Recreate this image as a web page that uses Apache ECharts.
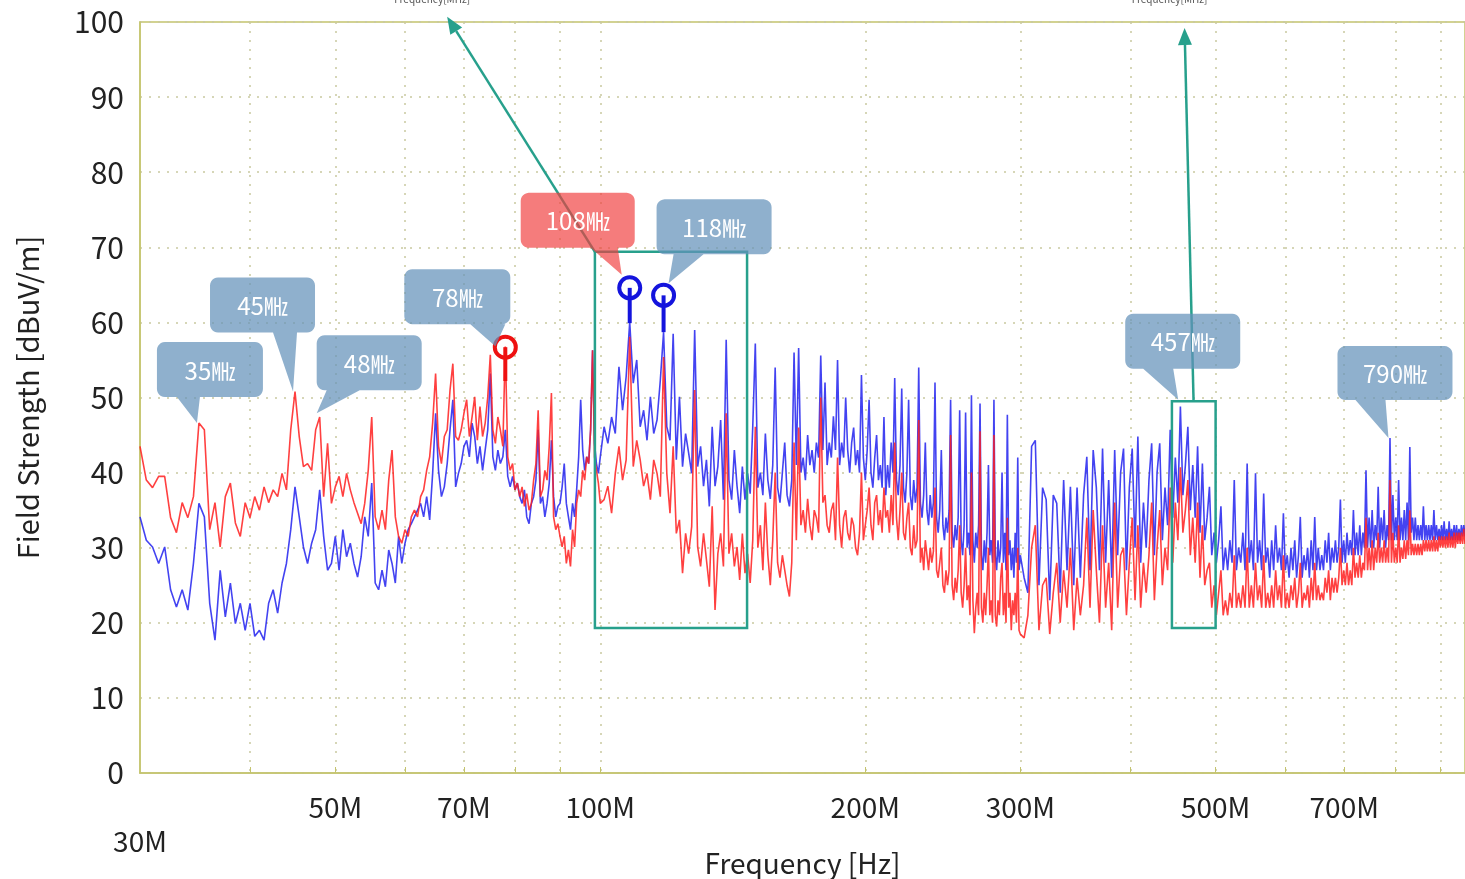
<!DOCTYPE html>
<html>
<head>
<meta charset="utf-8">
<title>Field Strength</title>
<script src="https://cdn.jsdelivr.net/npm/echarts@6/dist/echarts.min.js"></script>
<style>
  html, body { margin: 0; padding: 0; background: #fff; }
  #chart { width: 1465px; height: 879px; }
</style>
</head>
<body>
<div id="chart"></div>
<script>
  // sweep frequencies [MHz]
  const freqLow = [
    30, 30.5, 31, 31.5, 32, 32.5, 33, 33.5, 34, 34.5,
    35, 35.5, 36, 36.5, 37, 37.5, 38, 38.5, 39, 39.5,
    40, 40.5, 41, 41.5, 42, 42.5, 43, 43.5, 44, 44.5,
    45, 45.5, 46, 46.5, 47, 47.5, 48, 48.5, 49, 49.5,
    50, 50.5, 51, 51.5, 52, 52.5, 53, 53.5, 54, 54.5,
    55, 55.5, 56, 56.5, 57, 57.5, 58, 58.5, 59, 59.5,
    60, 60.5, 61, 61.5, 62, 62.5, 63, 63.5, 64, 64.5,
    65, 65.5, 66, 66.5, 67, 67.5, 68, 68.5, 69, 69.5,
    70, 70.5, 71, 71.5, 72, 72.5, 73, 73.5, 74, 74.5,
    75, 75.5, 76, 76.5, 77, 77.5, 78, 78.5, 79, 79.5,
    80, 80.5, 81, 81.5, 82, 82.5, 83, 83.5, 84, 84.5,
    85, 85.5, 86, 86.5, 87, 87.5, 88, 88.5, 89, 89.5,
    90, 90.5, 91, 91.5, 92, 92.5, 93, 93.5, 94, 94.5,
    95, 95.5, 96, 96.5, 97, 97.5, 98, 98.5, 99, 99.5,
    100
  ];
  const freqMid1 = [
    101, 102, 103, 104, 105, 106, 107, 108, 109, 110,
    111, 112, 113, 114, 115, 116, 117, 118, 119, 120,
    121, 122, 123, 124, 125, 126, 127, 128, 129, 130,
    131, 132, 133, 134, 135, 136, 137, 138, 139, 140,
    141, 142, 143, 144, 145, 146, 147, 148, 149, 150
  ];
  const freqMid2 = [
    151, 152, 153, 154, 155, 156, 157, 158, 159, 160,
    161, 162, 163, 164, 165, 166, 167, 168, 169, 170,
    171, 172, 173, 174, 175, 176, 177, 178, 179, 180,
    181, 182, 183, 184, 185, 186, 187, 188, 189, 190,
    191, 192, 193, 194, 195, 196, 197, 198, 199, 200,
    201, 202, 203, 204, 205, 206, 207, 208, 209, 210,
    211, 212, 213, 214, 215, 216, 217, 218, 219, 220,
    221, 222, 223, 224, 225, 226, 227, 228, 229, 230,
    231, 232, 233, 234, 235, 236, 237, 238, 239, 240,
    241, 242, 243, 244, 245, 246, 247, 248, 249, 250,
    251, 252, 253, 254, 255, 256, 257, 258, 259, 260,
    261, 262, 263, 264, 265, 266, 267, 268, 269, 270,
    271, 272, 273, 274, 275, 276, 277, 278, 279, 280,
    281, 282, 283, 284, 285, 286, 287, 288, 289, 290,
    291, 292, 293, 294, 295, 296, 297, 298, 299, 300
  ];
  const freqHigh = [
    303, 306, 309, 312, 315, 318, 321, 324, 327, 330,
    333, 336, 339, 342, 345, 348, 351, 354, 357, 360,
    363, 366, 369, 372, 375, 378, 381, 384, 387, 390,
    393, 396, 399, 402, 405, 408, 411, 414, 417, 420,
    423, 426, 429, 432, 435, 438, 441, 444, 447, 450,
    453, 456, 459, 462, 465, 468, 471, 474, 477, 480,
    483, 486, 489, 492, 495, 498, 501, 504, 507, 510,
    513, 516, 519, 522, 525, 528, 531, 534, 537, 540,
    543, 546, 549, 552, 555, 558, 561, 564, 567, 570,
    573, 576, 579, 582, 585, 588, 591, 594, 597, 600,
    603, 606, 609, 612, 615, 618, 621, 624, 627, 630,
    633, 636, 639, 642, 645, 648, 651, 654, 657, 660,
    663, 666, 669, 672, 675, 678, 681, 684, 687, 690,
    693, 696, 699, 702, 705, 708, 711, 714, 717, 720,
    723, 726, 729, 732, 735, 738, 741, 744, 747, 750,
    753, 756, 759, 762, 765, 768, 771, 774, 777, 780,
    783, 786, 789, 792, 795, 798, 801, 804, 807, 810,
    813, 816, 819, 822, 825, 828, 831, 834, 837, 840,
    843, 846, 849, 852, 855, 858, 861, 864, 867, 870,
    873, 876, 879, 882, 885, 888, 891, 894, 897, 900,
    903, 906, 909, 912, 915, 918, 921, 924, 927, 930,
    933, 936, 939, 942, 945, 948, 951, 954, 957, 960
  ];

  // blue trace [dBuV/m]
  const blueLow = [
    34.1, 31, 30.1, 27.9, 30.1, 24.4, 22.1, 24.4, 21.7, 27.9,
    35.9, 34.1, 22.6, 17.7, 27, 20.8, 25.3, 19.9, 22.6, 19,
    22.6, 18.2, 19, 17.7, 22.6, 24.4, 21.3, 25.3, 27.9, 32.4,
    38.1, 34.1, 30.1, 27.9, 30.6, 32.4, 37.7, 31.5, 27, 27.9,
    31.5, 27, 32.4, 28.8, 30.6, 27.9, 26.1, 28.8, 34.1, 31.5,
    38.6, 25.3, 24.4, 27, 24.8, 29.7, 27.9, 25.3, 31.5, 27.9,
    30.6, 32.4, 33.2, 34.1, 35, 35.9, 34.1, 36.8, 33.7, 39.9,
    47.9, 40.3, 36.8, 38.1, 41.2, 45.7, 49.7, 38.1, 39.9, 41.2,
    43.5, 44.3, 42.1, 46.6, 44.8, 41.2, 43.5, 40.3, 43, 45.7,
    53.2, 42.1, 40.3, 43, 41.2, 42.1, 45.7, 39.5, 38.1, 39.5,
    37.7, 38.6, 36.8, 35.9, 37.7, 34.1, 33.2, 35.9, 36.8, 39,
    45.7, 35.9, 36.8, 34.1, 35.9, 38.6, 44.3, 36.8, 34.1, 35.5,
    35.9, 38.1, 41.2, 35.9, 34.1, 32.4, 35.9, 34.1, 37.7, 42.1,
    49.7, 43, 40.3, 42.1, 41.2, 45.7, 56.3, 43.9, 41.2, 39.9,
    42.1
  ];
  const blueMid1 = [
    46.1, 43.9, 47.4, 45.2, 54.1, 48.3, 52.8, 60, 51.9, 55,
    46.1, 48.3, 44.3, 50.1, 45.2, 47, 52.3, 58.7, 46.1, 44.3,
    58.5, 41.7, 50.1, 40.8, 45.2, 42.6, 39.9, 59, 40.8, 43.5,
    38.2, 41.7, 35.5, 46.1, 38.2, 40.8, 47, 36.4, 57.7, 39,
    36.4, 43, 38.2, 34.6, 40.8, 36.4, 39.9, 37.2, 46.1, 57.2
  ];
  const blueMid2 = [
    38, 40, 37, 45.2, 39, 36.5, 41, 54, 38, 36,
    40, 44, 37, 35.5, 39, 56, 41, 56.6, 40, 42,
    39, 45, 41, 43, 40, 44, 42, 55.6, 43, 52,
    41, 44, 42, 47.5, 43, 55, 41, 44, 42, 50,
    43, 40, 44, 46, 41, 43, 40, 53, 42, 39,
    43, 49.7, 40, 38, 42, 45, 39, 41, 38, 47.4,
    37, 41, 38, 44, 40, 52.6, 39, 37, 41, 51.2,
    38, 36, 40, 49.7, 37, 35, 39, 36, 38, 54,
    36, 34, 37, 44, 35, 33, 37, 34, 36, 52,
    34, 32, 35, 43, 33, 31, 34, 32, 35, 49.7,
    32, 30, 33, 31, 34, 48.3, 31, 29, 33, 48,
    30, 32, 29, 50.3, 31, 28, 32, 30, 33, 49.2,
    29, 27, 31, 28, 32, 41, 29, 31, 28, 49.7,
    29, 27, 31, 28, 30, 40, 28, 32, 27, 47.7,
    29, 31, 27, 30, 26, 32, 28, 42, 27, 29
  ];
  const blueHigh = [
    26, 24, 43.5, 44.3, 25, 38, 36.4, 23, 37, 35.9,
    24, 39, 27, 38.1, 25, 38, 26, 37, 42.1, 27,
    43, 38, 27, 43.2, 28, 39, 26, 43, 29, 40,
    43.2, 27, 38, 43.2, 30, 44.8, 28, 36, 30, 39,
    43.9, 29, 40, 43.9, 31, 38, 33, 45.7, 34, 42,
    36, 48.8, 37, 41, 46.1, 35, 41, 34, 43.5, 32,
    41.2, 31, 34, 38.1, 29, 32, 28, 31, 35.5, 27,
    30, 27, 31, 28, 39, 27, 30, 28, 32, 27,
    41.2, 28, 31, 27, 39.9, 28, 31, 27, 37.2, 28,
    30, 26, 31, 27, 33, 28, 30, 27, 34.6, 27,
    29, 26, 30, 27, 31, 26, 29, 34.1, 26, 29,
    27, 30, 26, 31, 27, 34.1, 27, 30, 27, 29,
    27, 31, 28, 32, 27, 30, 28, 31, 28, 30,
    36.4, 28, 31, 28, 32, 29, 31, 29, 35, 29,
    32, 29, 33, 29, 32, 30, 40.3, 30, 34, 30,
    35, 30, 33, 31, 38.1, 30, 34, 31, 35, 30,
    33, 31, 44.6, 31, 37, 31, 34, 31, 39, 31,
    34, 31, 35, 31, 36, 31, 43.4, 32, 34, 31,
    34, 31, 33, 31, 33, 31, 35.5, 31, 33, 31,
    33, 31, 33, 31, 35, 31, 33, 31, 32.5, 31,
    33, 31, 33.5, 31, 32.5, 31, 33.5, 31, 32.5, 31,
    33, 31, 33, 31, 32.5, 31, 33, 31.5, 33, 31.5
  ];

  // red trace [dBuV/m]
  const redLow = [
    43.5, 39, 38, 39.5, 39.5, 34, 32, 36, 34, 36.8,
    46.6, 45.7, 32.4, 36, 30.1, 36.8, 38.6, 33.3, 31.5, 36,
    34, 36.8, 35, 38.1, 36, 37.7, 36.8, 39.9, 37.7, 45.7,
    50.8, 44.8, 40.8, 41.2, 40.3, 45.7, 47.4, 36.8, 43.9, 35.9,
    38.1, 39.5, 36.8, 39.9, 37.7, 36, 34.6, 33.2, 35.9, 40.3,
    47.4, 34.1, 32.4, 35, 32.4, 39, 43, 34.1, 31.5, 30.6,
    32.4, 31.5, 34.1, 35, 34.1, 36.8, 37.7, 40.3, 42.1, 46.6,
    53.2, 43.5, 41.2, 44.8, 45.7, 51, 54.5, 44.8, 44.3, 45.7,
    47.9, 49.7, 44.8, 47.4, 50.1, 44.3, 48.8, 44.8, 46.6, 50.1,
    55.7, 45.7, 43.9, 47.4, 45.7, 43.5, 56.8, 42.1, 40.3, 41.2,
    37.7, 38.6, 36.8, 38.1, 35.5, 37.2, 35, 35.9, 39, 41.2,
    48.3, 36.8, 37.7, 40.3, 39, 43.5, 50.6, 34.1, 32.4, 33.2,
    31.5, 30.1, 31.5, 27.9, 29.7, 27.5, 32.4, 30.1, 35.9, 37.7,
    36.8, 40.3, 39, 42.1, 41.2, 45.7, 56.3, 42.1, 40.3, 38.6,
    35.9
  ];
  const redMid1 = [
    36.4, 38.2, 34.6, 39.9, 43.5, 39, 41.7, 58.1, 40.8, 44.3,
    41.7, 38.2, 39.9, 36.4, 41.7, 39.9, 36.8, 55.4, 39.9, 34.6,
    43.5, 31.9, 33.7, 26.6, 31.9, 29.2, 32.8, 51, 30.1, 27.5,
    31.9, 28.4, 24.8, 35.5, 21.7, 29.2, 31.9, 27.5, 47.9, 29.2,
    31.9, 27.5, 30.1, 25.7, 31.9, 26.6, 29.2, 25.3, 31, 46.1
  ];
  const redMid2 = [
    30, 33, 27, 36, 29, 25, 31, 40, 28, 26,
    29, 27, 25, 23.5, 28, 44, 31, 46, 33, 35,
    32, 36.5, 33, 31, 35, 34, 32, 50, 36, 37,
    33, 32, 35, 36, 31, 42, 33, 30, 34, 35,
    32, 31, 34, 33, 30, 29, 32, 40, 31, 33,
    35, 38, 33, 31, 36, 37, 33, 35, 32, 38,
    34, 35, 32, 37, 33, 44, 34, 31, 35, 40,
    32, 31, 34, 36, 30, 29, 33, 30, 31, 47,
    28, 30, 27, 31, 29, 27, 30, 28, 29.5, 38,
    27, 26, 28, 30, 25, 24, 27, 25, 27, 45,
    25, 23, 26, 24, 27, 33, 24, 22, 25, 30,
    23, 25, 21, 40, 23, 18.6, 22, 24, 21, 45.5,
    22, 20, 24, 21, 25, 30, 21, 23, 20, 45,
    21, 19.5, 23, 21, 26, 28, 21, 24, 20, 34,
    22, 24, 19, 23, 21, 24, 20, 30, 19, 18.5
  ];
  const redHigh = [
    18, 21, 30, 33, 19, 25, 26, 18.5, 24, 28,
    20, 27, 22, 30, 19, 26, 21, 25, 34, 22,
    35, 27, 20, 33, 22, 28, 19, 36, 22, 29,
    30, 21, 28, 34, 23, 33, 22, 28, 24, 29,
    36, 23, 30, 35, 25, 30, 27, 38, 28, 36,
    31, 40.7, 32, 35, 39, 29, 34, 28, 36, 26,
    33, 25, 27, 28, 22, 25, 21, 24, 27, 21,
    23, 21, 24, 22, 29, 22, 24, 22, 25, 22,
    30, 22, 25, 22, 28, 23, 25, 22, 29, 22,
    24, 22, 25, 22, 27, 23, 25, 22, 29, 22,
    24, 22, 25, 23, 26, 22, 24, 28, 22, 24,
    23, 25, 22, 26, 23, 28, 23, 25, 23, 24,
    23, 26, 24, 27, 23, 26, 24, 26, 24, 26,
    30, 25, 27, 25, 28, 25, 27, 25, 30, 26,
    28, 26, 29, 26, 28, 27, 34, 27, 30, 27,
    31, 27, 30, 28, 32, 28, 30, 28, 31, 28,
    30, 28, 39, 28, 32, 28, 30, 28, 33, 28,
    30, 28.5, 31, 28.5, 31, 29, 35, 29, 30.5, 29,
    30.5, 29, 30.5, 29, 30.5, 29, 31, 29.5, 31, 29.5,
    31, 29.5, 31, 29.5, 31.5, 29.5, 31, 29.5, 31.5, 30,
    31.5, 30, 31.5, 30, 31.5, 30, 32, 30, 31.5, 30,
    32, 30, 32, 30.5, 32, 30.5, 32, 30.5, 32.5, 30.5
  ];

  // axis ticks
  const gridFreqs = [40, 50, 60, 70, 80, 90, 100, 200, 300, 400, 500, 600, 700, 800, 900];
  const freqLabels = [30, 50, 70, 100, 200, 300, 500, 700];

  // peak pins: [freq, top, stem bottom]
  const redPins = [[78, 56.7, 52.2]];
  const bluePins = [[108, 64.6, 59.9], [118, 63.6, 58.7]];

  // teal boxes: [f0, f1, v0, v1]
  const tealBoxes = [[98.6, 146.8, 19.3, 69.4], [446, 500, 19.3, 49.5]];
  // teal arrows: from -> to
  const tealArrows = [[[98.6, 69.4], [67, 100.7]], [[472, 49.5], [461, 99.2]]];

  const calloutBlue = 'rgba(100, 145, 186, 0.72)';
  const calloutRed = 'rgba(240, 62, 62, 0.68)';
  // callout: anchor in data, offsets in px from anchor
  const callouts = [
    { text: '35', anchor: [35, 46.6], tip: [-2, 0], box: [-42, -81, 64, -26], base: [-22, 1], color: calloutBlue },
    { text: '45', anchor: [45, 50.8], tip: [-2, 0], box: [-85, -114, 20, -59], base: [-22, 2], color: calloutBlue },
    { text: '48', anchor: [48, 47.9], tip: [-3, 0], box: [-3, -78, 102, -23], base: [7, 40], color: calloutBlue },
    { text: '78', anchor: [78, 56.7], tip: [-10, -1], box: [-101, -78, 5, -23], base: [-35, 0], color: calloutBlue },
    { text: '108', anchor: [108, 64.6], tip: [-8, -13], box: [-109, -95, 5, -40], base: [-39, -12], color: calloutRed },
    { text: '118', anchor: [118, 63.6], tip: [5, -12], box: [-7, -96, 108, -41], base: [10, 40], color: calloutBlue },
    { text: '457', anchor: [457, 49.7], tip: [-3, 0], box: [-56, -86, 59, -31], base: [-38, -8], color: calloutBlue },
    { text: '790', anchor: [790, 44.6], tip: [-2, 0], box: [-53, -92, 62, -38], base: [-35, -5], color: calloutBlue }
  ];

  const axisColor = '#c4c46e';
  const gridColor = '#c9c9a0';
  const teal = '#27a08c';
  const font = "'Noto Sans CJK JP', 'Noto Sans', sans-serif";

  const zip = (fs, vs) => fs.map((f, i) => [f, vs[i]]);
  const freqs = freqLow.concat(freqMid1, freqMid2, freqHigh);
  const blueData = zip(freqs, blueLow.concat(blueMid1, blueMid2, blueHigh));
  const redData = zip(freqs, redLow.concat(redMid1, redMid2, redHigh));

  const pinSeries = (pins, color) => {
    const out = [];
    pins.forEach((p) => {
      out.push({
        type: 'line', data: [[p[0], p[2]], [p[0], p[1]]], symbol: 'none', z: 6,
        lineStyle: { color: color, width: 4 }, silent: true
      });
    });
    out.push({
      type: 'scatter', data: pins.map((p) => [p[0], p[1]]), symbol: 'circle', symbolSize: 21, z: 7,
      itemStyle: { color: 'rgba(0,0,0,0)', borderColor: color, borderWidth: 4, opacity: 1 }, silent: true
    });
    return out;
  };

  const myChart = echarts.init(document.getElementById('chart'));
  myChart.setOption({
    animation: false,
    backgroundColor: '#ffffff',
    grid: {
      left: 140, right: 0, top: 22, bottom: 106, containLabel: false, outerBoundsMode: 'none',
      show: true, borderColor: axisColor, borderWidth: 1.5, backgroundColor: '#ffffff'
    },
    xAxis: {
      type: 'log', logBase: 10, min: 30, max: 960,
      name: 'Frequency [Hz]', nameLocation: 'middle', nameGap: 76, nameMoveOverlap: false,
      nameTextStyle: { fontSize: 28, color: '#222', fontFamily: font },
      axisLine: { show: true, lineStyle: { color: axisColor, width: 1.5 } },
      axisTick: { show: true, inside: true, length: 6, customValues: gridFreqs, lineStyle: { color: axisColor } },
      axisLabel: {
        customValues: freqLabels, margin: 20, hideOverlap: false,
        formatter: (v) => (v === 30 ? '{low|30M}' : '{n|' + v + 'M}'),
        rich: {
          n: { fontSize: 28, color: '#222', fontFamily: font },
          low: { fontSize: 28, color: '#222', fontFamily: font, padding: [34, 0, 0, 0] }
        }
      },
      splitLine: { show: true, lineStyle: { color: gridColor, type: [2, 7], width: 1.5 } }
    },
    yAxis: {
      type: 'value', min: 0, max: 100, interval: 10,
      name: 'Field Strength [dBuV/m]', nameLocation: 'middle', nameGap: 98, nameRotate: 90,
      nameTextStyle: { fontSize: 29, color: '#222', fontFamily: font },
      axisLine: { show: true, lineStyle: { color: axisColor, width: 1.5 } },
      axisTick: { show: false },
      axisLabel: { fontSize: 30, color: '#222', fontFamily: font, margin: 16 },
      splitLine: { show: true, lineStyle: { color: gridColor, type: [2, 7], width: 1.5 } }
    },
    series: [
      {
        name: 'blue', type: 'line', data: blueData, showSymbol: false, symbol: 'none', z: 2,
        lineStyle: { color: '#2222ee', width: 1.6, opacity: 0.85 }
      },
      {
        name: 'red', type: 'line', data: redData, showSymbol: false, symbol: 'none', z: 3,
        lineStyle: { color: '#ff1e1e', width: 1.6, opacity: 0.85 }
      }
    ].concat(pinSeries(redPins, '#ee1111'), pinSeries(bluePins, '#1414dd'))
  });

  const px = (p) => myChart.convertToPixel({ xAxisIndex: 0, yAxisIndex: 0 }, p);

  const calloutPoints = (cx, cy, c) => {
    const x0 = cx + c.box[0], y0 = cy + c.box[1], x1 = cx + c.box[2], y1 = cy + c.box[3];
    const r = 8;
    const pts = [];
    const arc = (ox, oy, a0) => {
      for (let i = 0; i <= 6; i++) {
        const a = ((a0 + i * 15) * Math.PI) / 180;
        pts.push([ox + r * Math.cos(a), oy + r * Math.sin(a)]);
      }
    };
    arc(x0 + r, y0 + r, 180);
    arc(x1 - r, y0 + r, 270);
    arc(x1 - r, y1 - r, 0);
    pts.push([cx + c.base[1], y1]);
    pts.push([cx + c.tip[0], cy + c.tip[1]]);
    pts.push([cx + c.base[0], y1]);
    arc(x0 + r, y1 - r, 90);
    return pts;
  };

  const graphics = [];
  tealBoxes.forEach((b) => {
    const a = px([b[0], b[3]]);
    const z = px([b[1], b[2]]);
    graphics.push({
      type: 'rect', z: 50, silent: true,
      shape: { x: a[0], y: a[1], width: z[0] - a[0], height: z[1] - a[1] },
      style: { fill: null, stroke: teal, lineWidth: 2.5 }
    });
  });
  tealArrows.forEach((ar) => {
    const s = px(ar[0]);
    const e = px(ar[1]);
    const dx = e[0] - s[0], dy = e[1] - s[1];
    const len = Math.sqrt(dx * dx + dy * dy);
    const ux = dx / len, uy = dy / len;
    const hl = 17, hw = 7;
    const bx = e[0] - ux * hl, by = e[1] - uy * hl;
    graphics.push({
      type: 'line', z: 50, silent: true,
      shape: { x1: s[0], y1: s[1], x2: bx, y2: by },
      style: { stroke: teal, lineWidth: 2.5 }
    });
    graphics.push({
      type: 'polygon', z: 50, silent: true,
      shape: { points: [[e[0], e[1]], [bx - uy * hw, by + ux * hw], [bx + uy * hw, by - ux * hw]] },
      style: { fill: teal }
    });
    graphics.push({
      type: 'text', z: 50, silent: true, x: e[0] - 15, y: -6,
      style: { text: 'Frequency[MHz]', fill: '#555', fontSize: 10, fontFamily: font, align: 'center', verticalAlign: 'top' }
    });
  });
  callouts.forEach((c) => {
    const p = px(c.anchor);
    graphics.push({
      type: 'polygon', z: 60, silent: true,
      shape: { points: calloutPoints(p[0], p[1], c) },
      style: { fill: c.color }
    });
    graphics.push({
      type: 'text', z: 61, silent: true,
      x: p[0] + (c.box[0] + c.box[2]) / 2, y: p[1] + (c.box[1] + c.box[3]) / 2 + 1,
      style: { text: c.text + '㎒', fill: '#ffffff', fontSize: 24, fontFamily: font, align: 'center', verticalAlign: 'middle' }
    });
  });
  myChart.setOption({ graphic: graphics });

  window.addEventListener('resize', function () {
    myChart && myChart.resize();
  });
</script>
</body>
</html>
